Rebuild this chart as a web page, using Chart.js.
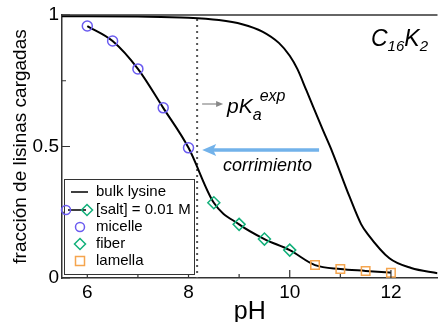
<!DOCTYPE html>
<html>
<head>
<meta charset="utf-8">
<script src="https://cdn.jsdelivr.net/npm/chart.js@4.4.0/dist/chart.umd.min.js"></script>
<style>
  html, body { margin: 0; padding: 0; background: #fff; overflow: hidden; width: 438px; height: 322px; }
  #c { display: block; }
</style>
</head>
<body>
<canvas id="c" width="438" height="327"></canvas>
<script>
// bulk lysine curve
const bulkPH = [5.5, 6, 7, 8, 8.6, 9.06, 9.46, 9.79, 10.0, 10.15, 10.33, 10.65, 10.84, 11.18, 11.41, 11.53, 11.97, 12.4, 12.92]
const bulkFrac = [0.995, 0.995, 0.994, 0.99, 0.981, 0.965, 0.937, 0.893, 0.845, 0.795, 0.713, 0.565, 0.48, 0.31, 0.205, 0.17, 0.075, 0.038, 0.018]

// [salt] = 0.01 M, split by phase
const micellePH = [6, 6.5, 7, 7.5, 8]
const micelleFrac = [0.958, 0.901, 0.795, 0.647, 0.495]
const fiberPH = [8.5, 9, 9.5, 10]
const fiberFrac = [0.286, 0.204, 0.148, 0.106]
const lamellaPH = [10.5, 11, 11.5, 12]
const lamellaFrac = [0.049, 0.034, 0.027, 0.020]

const xTicks = [6, 8, 10, 12]
const xMinorTicks = [7, 9, 11]
const yTicks = [0, 0.5, 1]
const yMinorTicks = [0.25, 0.75]

const pKaExp = 8.17

const FONT = "'Liberation Sans', Arial, sans-serif"
const purple = '#6b5cf0'
const green = '#12b07a'
const orange = '#f5a54e'
const axisColor = '#333'

const pts = (xs, ys) => xs.map((v, i) => ({ x: v, y: ys[i] }))
const saltPH = micellePH.concat(fiberPH, lamellaPH)
const saltFrac = micelleFrac.concat(fiberFrac, lamellaFrac)

const setTicks = (vals) => (scale) => { scale.ticks = vals.map(v => ({ value: v })) }

const extras = {
    id: 'extras',
    beforeDatasetsDraw(chart) {
        const ctx = chart.ctx
        const x = chart.scales.x
        const a = chart.chartArea
        // dotted pKa line
        ctx.save()
        ctx.strokeStyle = '#555'
        ctx.lineWidth = 2
        ctx.setLineDash([2, 4])
        const px = x.getPixelForValue(pKaExp)
        ctx.beginPath()
        ctx.moveTo(px, a.top + 4)
        ctx.lineTo(px, a.bottom)
        ctx.stroke()
        ctx.restore()
    },
    afterDraw(chart) {
        const ctx = chart.ctx
        const x = chart.scales.x, y = chart.scales.y
        const a = chart.chartArea
        ctx.save()
        // top frame
        ctx.strokeStyle = axisColor
        ctx.lineWidth = 1.5
        ctx.beginPath()
        ctx.moveTo(a.left, a.top)
        ctx.lineTo(a.right, a.top)
        ctx.stroke()
        // inward ticks
        ctx.lineWidth = 1.2
        ctx.beginPath()
        xTicks.forEach(v => { const p = x.getPixelForValue(v); ctx.moveTo(p, a.bottom); ctx.lineTo(p, a.bottom - 8) })
        xMinorTicks.forEach(v => { const p = x.getPixelForValue(v); ctx.moveTo(p, a.bottom); ctx.lineTo(p, a.bottom - 4) })
        yTicks.forEach(v => { const p = y.getPixelForValue(v); ctx.moveTo(a.left, p); ctx.lineTo(a.left + 8, p) })
        yMinorTicks.forEach(v => { const p = y.getPixelForValue(v); ctx.moveTo(a.left, p); ctx.lineTo(a.left + 4, p) })
        ctx.stroke()

        // blue shift arrow
        const ay = y.getPixelForValue(0.487)
        const ax0 = x.getPixelForValue(8.27), ax1 = x.getPixelForValue(10.58)
        ctx.strokeStyle = '#72b2ea'
        ctx.fillStyle = '#72b2ea'
        ctx.lineWidth = 3.5
        ctx.beginPath()
        ctx.moveTo(ax0 + 10, ay)
        ctx.lineTo(ax1, ay)
        ctx.stroke()
        ctx.beginPath()
        ctx.moveTo(ax0, ay)
        ctx.lineTo(ax0 + 14, ay - 6)
        ctx.lineTo(ax0 + 11, ay)
        ctx.lineTo(ax0 + 14, ay + 6)
        ctx.closePath()
        ctx.fill()

        // gray arrow to pKa label
        const gy = 104
        const gx0 = x.getPixelForValue(pKaExp) + 5
        ctx.strokeStyle = '#888'
        ctx.fillStyle = '#888'
        ctx.lineWidth = 1.2
        ctx.beginPath()
        ctx.moveTo(gx0, gy)
        ctx.lineTo(gx0 + 16, gy)
        ctx.stroke()
        ctx.beginPath()
        ctx.moveTo(gx0 + 21, gy)
        ctx.lineTo(gx0 + 14, gy - 3)
        ctx.lineTo(gx0 + 14, gy + 3)
        ctx.closePath()
        ctx.fill()

        // labels
        ctx.fillStyle = '#000'
        ctx.textBaseline = 'alphabetic'
        ctx.textAlign = 'left'
        ctx.font = 'italic 21px ' + FONT
        ctx.fillText('pK', 227, 113)
        let w = ctx.measureText('pK').width
        ctx.font = 'italic 16px ' + FONT
        ctx.fillText('a', 227 + w, 120)
        ctx.fillText('exp', 227 + w + 7, 101)

        ctx.font = 'italic 18px ' + FONT
        ctx.fillText('corrimiento', 223, 171)

        let cx = 371
        ctx.font = 'italic 23px ' + FONT
        ctx.fillText('C', cx, 46); cx += ctx.measureText('C').width
        ctx.font = 'italic 15px ' + FONT
        ctx.fillText('16', cx, 51); cx += ctx.measureText('16').width
        ctx.font = 'italic 23px ' + FONT
        ctx.fillText('K', cx, 46); cx += ctx.measureText('K').width
        ctx.font = 'italic 15px ' + FONT
        ctx.fillText('2', cx, 51)

        // legend
        const lx = 64, ly = 179, lw = 130, lh = 95
        ctx.fillStyle = '#fff'
        ctx.fillRect(lx, ly, lw, lh)
        ctx.strokeStyle = axisColor
        ctx.lineWidth = 1
        ctx.strokeRect(lx + 0.5, ly + 0.5, lw, lh)
        const rows = [192, 210, 227, 244, 261]
        const tx = 96
        ctx.font = '15px ' + FONT
        ctx.fillStyle = '#000'
        ctx.textBaseline = 'middle'
        ctx.fillText('bulk lysine', tx, rows[0])
        ctx.fillText('[salt] = 0.01 M', tx, rows[1])
        ctx.fillText('micelle', tx, rows[2])
        ctx.fillText('fiber', tx, rows[3])
        ctx.fillText('lamella', tx, rows[4])
        ctx.strokeStyle = '#000'
        ctx.lineWidth = 1.5
        ctx.beginPath()
        ctx.moveTo(71, rows[0]); ctx.lineTo(88, rows[0])
        ctx.moveTo(68, rows[1]); ctx.lineTo(86, rows[1])
        ctx.stroke()
        const circle = (cx, cy) => { ctx.strokeStyle = purple; ctx.beginPath(); ctx.arc(cx, cy, 4.5, 0, Math.PI * 2); ctx.stroke() }
        const diamond = (cx, cy) => { ctx.strokeStyle = green; ctx.beginPath(); ctx.moveTo(cx, cy - 5.5); ctx.lineTo(cx + 5.5, cy); ctx.lineTo(cx, cy + 5.5); ctx.lineTo(cx - 5.5, cy); ctx.closePath(); ctx.stroke() }
        const square = (cx, cy) => { ctx.strokeStyle = orange; ctx.strokeRect(cx - 4.5, cy - 4.5, 9, 9) }
        circle(66, rows[1]); diamond(87, rows[1])
        circle(80, rows[2]); diamond(80, rows[3]); square(80, rows[4])
        ctx.restore()
    }
}

Chart.defaults.font.family = FONT
Chart.defaults.color = '#000'

const canvas = document.getElementById('c')

const makeChart = () => new Chart(canvas, {
    type: 'scatter',
    data: {
        datasets: [
            {
                label: 'micelle',
                data: pts(micellePH, micelleFrac),
                pointStyle: 'circle', pointRadius: 5,
                borderColor: purple, backgroundColor: 'rgba(0,0,0,0)', borderWidth: 1.5,
                order: 1
            },
            {
                label: 'fiber',
                data: pts(fiberPH, fiberFrac),
                pointStyle: 'rectRot', pointRadius: 6,
                borderColor: green, backgroundColor: 'rgba(0,0,0,0)', borderWidth: 1.5,
                order: 1
            },
            {
                label: 'lamella',
                data: pts(lamellaPH, lamellaFrac),
                pointStyle: 'rect', pointRadius: 6,
                borderColor: orange, backgroundColor: 'rgba(0,0,0,0)', borderWidth: 1.5,
                order: 1
            },
            {
                label: '[salt] = 0.01 M',
                data: pts(saltPH, saltFrac),
                showLine: true, pointRadius: 0,
                borderColor: '#000', borderWidth: 2,
                cubicInterpolationMode: 'monotone',
                order: 2
            },
            {
                label: 'bulk lysine',
                data: pts(bulkPH, bulkFrac),
                showLine: true, pointRadius: 0,
                borderColor: '#000', borderWidth: 2,
                cubicInterpolationMode: 'monotone',
                order: 3
            }
        ]
    },
    options: {
        responsive: false,
        animation: false,
        devicePixelRatio: 1,
        layout: { padding: { top: 15, right: 0, left: 9, bottom: 0 } },
        plugins: { legend: { display: false }, tooltip: { enabled: false } },
        scales: {
            x: {
                type: 'linear', min: 5.5, max: 12.92,
                afterBuildTicks: setTicks(xTicks),
                afterFit: (s) => { s.height = 49; s.paddingLeft = 0; s.paddingRight = 0 },
                grid: { drawOnChartArea: false, drawTicks: false },
                border: { display: true, color: axisColor, width: 1.5 },
                ticks: { font: { size: 19 }, padding: 3, maxRotation: 0 },
                title: { display: true, text: 'pH', font: { size: 25 }, padding: 0 }
            },
            y: {
                type: 'linear', min: 0, max: 1,
                afterBuildTicks: setTicks(yTicks),
                afterFit: (s) => { s.width = 53; s.paddingTop = 0; s.paddingBottom = 0 },
                grid: { drawOnChartArea: false, drawTicks: false },
                border: { display: true, color: axisColor, width: 1.5 },
                ticks: { font: { size: 19 }, padding: 3, callback: (v) => String(v) },
                title: { display: true, text: 'fracción de lisinas cargadas', font: { size: 19 }, padding: 0 }
            }
        }
    },
    plugins: [extras]
})

// the layout keeps a few px free on the right; widen the canvas past the window edge
// so the plot area reaches it
let chart = makeChart()
const gap = 438 - chart.chartArea.right
if (gap > 0) {
    chart.destroy()
    canvas.width = 438 + gap
    canvas.height = 327
    chart = makeChart()
}
</script>
</body>
</html>
